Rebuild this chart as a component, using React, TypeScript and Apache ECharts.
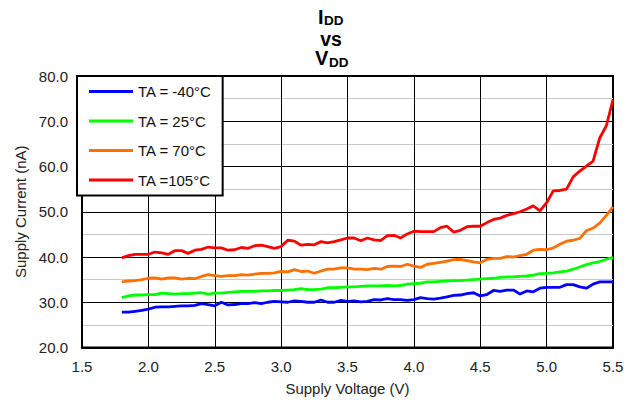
import React, { useEffect, useRef } from "react";
import * as echarts from "echarts";

// Supply voltage (V)
const voltages = [
  1.8, 1.85, 1.9, 1.95, 2.0, 2.05, 2.1, 2.15, 2.2, 2.25, 2.3, 2.35, 2.4, 2.45, 2.5, 2.55, 2.6, 2.65, 2.7, 2.75,
  2.8, 2.85, 2.9, 2.95, 3.0, 3.05, 3.1, 3.15, 3.2, 3.25, 3.3, 3.35, 3.4, 3.45, 3.5, 3.55, 3.6, 3.65, 3.7,
  3.75, 3.8, 3.85, 3.9, 3.95, 4.0, 4.05, 4.1, 4.15, 4.2, 4.25, 4.3, 4.35, 4.4, 4.45, 4.5, 4.55, 4.6, 4.65, 4.7,
  4.75, 4.8, 4.85, 4.9, 4.95, 5.0, 5.05, 5.1, 5.15, 5.2, 5.25, 5.3, 5.35, 5.4, 5.45, 5.5,
];

// Supply current (nA)
const iddMinus40 = [
  27.8, 27.8, 28.0, 28.2, 28.5, 28.9, 29.0, 29.0, 29.1, 29.2, 29.2, 29.3, 29.7, 29.5, 29.2, 30.0, 29.4, 29.5, 29.7, 29.7,
  29.9, 29.7, 30.0, 30.2, 30.1, 30.0, 30.3, 30.2, 30.0, 30.0, 30.5, 30.0, 30.0, 30.4, 30.2, 30.3, 30.1, 30.2, 30.6,
  30.5, 30.8, 30.6, 30.6, 30.4, 30.6, 31.0, 30.8, 30.7, 30.9, 31.2, 31.5, 31.6, 31.9, 32.1, 31.4, 31.7, 32.6, 32.4, 32.7,
  32.7, 31.8, 32.5, 32.3, 33.1, 33.3, 33.3, 33.3, 33.9, 33.9, 33.4, 33.1, 34.0, 34.5, 34.5, 34.5,
];
const idd25 = [
  31.0, 31.4, 31.6, 31.6, 31.7, 31.7, 32.0, 31.9, 31.8, 31.9, 31.9, 32.0, 32.1, 31.8, 32.0, 32.0, 32.2, 32.3, 32.4, 32.4,
  32.4, 32.5, 32.5, 32.6, 32.6, 32.7, 32.8, 33.0, 32.8, 32.8, 32.9, 33.2, 33.2, 33.3, 33.4, 33.4, 33.5, 33.6, 33.6,
  33.6, 33.7, 33.6, 33.7, 34.0, 34.1, 34.2, 34.5, 34.5, 34.6, 34.7, 34.8, 34.8, 34.9, 35.0, 35.1, 35.2, 35.3, 35.5, 35.6,
  35.6, 35.7, 35.8, 36.0, 36.3, 36.4, 36.5, 36.7, 36.9, 37.3, 37.8, 38.3, 38.7, 39.0, 39.5, 39.9,
];
const idd70 = [
  34.5, 34.7, 34.8, 35.0, 35.3, 35.4, 35.1, 35.4, 35.4, 35.1, 35.3, 35.2, 35.7, 36.1, 35.9, 35.7, 35.9, 35.9, 36.1, 36.0,
  36.2, 36.4, 36.4, 36.5, 36.8, 36.7, 37.2, 36.8, 36.9, 36.4, 36.9, 37.3, 37.3, 37.6, 37.6, 37.3, 37.3, 37.2, 37.5,
  37.3, 37.9, 38.0, 37.9, 38.4, 38.0, 37.7, 38.4, 38.6, 38.8, 39.1, 39.4, 39.5, 39.2, 38.9, 38.7, 39.5, 39.7, 39.7, 40.1,
  40.0, 40.3, 40.6, 41.5, 41.7, 41.6, 42.0, 42.8, 43.5, 43.7, 44.1, 45.8, 46.4, 47.5, 49.2, 51.1,
];
const idd105 = [
  39.8, 40.3, 40.6, 40.6, 40.6, 41.1, 40.9, 40.6, 41.4, 41.4, 40.8, 41.5, 41.7, 42.2, 42.0, 42.0, 41.5, 41.6, 42.1, 41.9,
  42.5, 42.6, 42.3, 41.9, 42.3, 43.7, 43.5, 42.6, 42.8, 42.7, 43.4, 43.1, 43.4, 43.8, 44.2, 44.2, 43.6, 44.2, 43.8,
  43.6, 44.7, 44.8, 44.2, 45.1, 45.7, 45.6, 45.6, 45.6, 46.5, 46.8, 45.5, 45.9, 46.7, 46.8, 46.8, 47.6, 48.3, 48.6, 49.2,
  49.6, 50.0, 50.6, 51.3, 50.2, 52.0, 54.6, 54.7, 55.0, 57.7, 59.0, 60.1, 61.2, 66.3, 69.0, 74.8,
];

const seriesNames = ["TA = -40°C", "TA = 25°C", "TA = 70°C", "TA =105°C"];
const seriesColors = ["#0000ff", "#00ff00", "#ff7000", "#ff0000"];

const xRange = [1.5, 5.5];
const xStep = 0.5;
const yRange = [20, 80];
const yStep = 10;

const xAxisName = "Supply Voltage (V)";
const yAxisName = "Supply Current (nA)";

export default function App() {
  const ref = useRef<HTMLDivElement>(null);
  useEffect(() => {
    const chart = echarts.init(ref.current!, null, { renderer: "svg" });
    const font = "'Liberation Sans', Arial, Helvetica, sans-serif";
    const all = [iddMinus40, idd25, idd70, idd105];
    const titleStyle = (text: string, size: number, lh: number, align: string) => ({
      text,
      font: `bold ${size}px ${font}`,
      lineHeight: lh,
      fill: "#000",
      align,
      verticalAlign: "middle",
    });
    chart.setOption({
      animation: false,
      textStyle: { fontFamily: font },
      grid: {
        left: 82,
        top: 76,
        right: 24,
        bottom: 56.5,
        show: true,
        borderColor: "#000",
        borderWidth: 2,
        backgroundColor: "transparent",
      },
      graphic: [
        { type: "text", x: 318, y: 17, z: 10, style: titleStyle("I", 20, 16, "left") },
        { type: "text", x: 324, y: 20.5, z: 10, style: titleStyle("DD", 13.5, 12, "left") },
        { type: "text", x: 331, y: 39, z: 10, style: titleStyle("vs", 19.5, 14, "center") },
        { type: "text", x: 315, y: 58, z: 10, style: titleStyle("V", 20, 16, "left") },
        { type: "text", x: 329, y: 62.5, z: 10, style: titleStyle("DD", 13.5, 12, "left") },
      ],
      legend: {
        orient: "vertical",
        left: 77,
        top: 76,
        backgroundColor: "#fff",
        borderColor: "#000",
        borderWidth: 2,
        padding: [8, 11, 8, 12],
        itemWidth: 44,
        itemHeight: 3,
        itemGap: 14.5,
        icon: "rect",
        textStyle: { fontSize: 15, color: "#111", fontFamily: font },
        data: seriesNames,
      },
      xAxis: {
        type: "value",
        min: xRange[0],
        max: xRange[1],
        interval: xStep,
        axisLine: { show: true, lineStyle: { color: "#000", width: 2 } },
        axisTick: { show: false },
        axisLabel: { formatter: (v: number) => v.toFixed(1), fontSize: 15, color: "#222", margin: 11 },
        splitLine: { show: true, lineStyle: { color: "#000", width: 1 } },
        name: xAxisName,
        nameLocation: "middle",
        nameGap: 33,
        nameTextStyle: { fontSize: 15, color: "#222" },
      },
      yAxis: {
        type: "value",
        min: yRange[0],
        max: yRange[1],
        interval: yStep,
        axisLine: { show: true, lineStyle: { color: "#000", width: 2 } },
        axisTick: { show: false },
        axisLabel: { formatter: (v: number) => v.toFixed(1), fontSize: 15, color: "#222", margin: 14 },
        splitLine: { show: true, lineStyle: { color: "#000", width: 1 } },
        minorTick: { show: true, splitNumber: 2, length: 0 },
        minorSplitLine: { show: true, lineStyle: { color: "#c8c8c8", width: 1 } },
        name: yAxisName,
        nameLocation: "middle",
        nameGap: 52,
        nameTextStyle: { fontSize: 15, color: "#222" },
      },
      series: all.map((d, i) => ({
        type: "line",
        name: seriesNames[i],
        data: voltages.map((v, j) => [v, d[j]]),
        showSymbol: false,
        symbol: "none",
        lineStyle: { color: seriesColors[i], width: 2.8 },
        itemStyle: { color: seriesColors[i] },
        z: 3,
      })),
    });
    return () => chart.dispose();
  }, []);
  return <div ref={ref} style={{ position: "absolute", left: 0, top: 0, width: 637, height: 404 }} />;
}
